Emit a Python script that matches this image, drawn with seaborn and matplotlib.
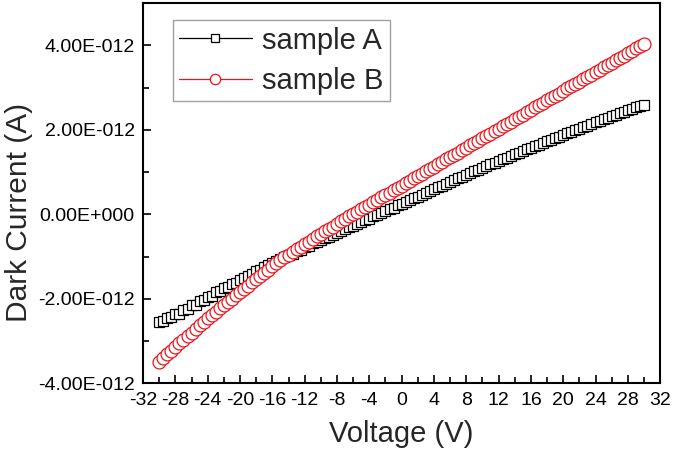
import numpy as np
import pandas as pd
import matplotlib
matplotlib.use("Agg")
import matplotlib.pyplot as plt
from matplotlib.ticker import FixedLocator, FixedFormatter, MultipleLocator
import seaborn as sns

# ---- data (current in units of 1e-12 A) ----
voltage = [v / 2 for v in range(-60, 61)]

sample_a = [
    -2.55, -2.52, -2.46, -2.44, -2.36, -2.35, -2.27, -2.24, -2.16, -2.14,
    -2.05, -2.03, -1.95, -1.93, -1.85, -1.82, -1.75, -1.72, -1.65, -1.62,
    -1.55, -1.52, -1.45, -1.42, -1.35, -1.32, -1.25, -1.21, -1.15, -1.11,
    -1.05, -1.02, -0.96, -0.93, -0.87, -0.84, -0.78, -0.74, -0.69, -0.66,
    -0.62, -0.57, -0.53, -0.48, -0.44, -0.40, -0.36, -0.31, -0.27, -0.22,
    -0.18, -0.14, -0.10, -0.05, -0.01, 0.04, 0.08, 0.12, 0.16, 0.21,
    0.25, 0.29, 0.33, 0.38, 0.42, 0.46, 0.51, 0.55, 0.59, 0.64,
    0.68, 0.72, 0.76, 0.81, 0.85, 0.89, 0.93, 0.97, 1.02, 1.06,
    1.10, 1.14, 1.18, 1.22, 1.26, 1.30, 1.34, 1.38, 1.42, 1.46,
    1.50, 1.54, 1.58, 1.61, 1.65, 1.69, 1.73, 1.77, 1.80, 1.84,
    1.88, 1.92, 1.96, 1.99, 2.03, 2.07, 2.10, 2.14, 2.18, 2.21,
    2.25, 2.29, 2.32, 2.36, 2.39, 2.43, 2.46, 2.50, 2.53, 2.57, 2.60,
]

sample_b = [
    -3.50, -3.41, -3.32, -3.24, -3.15, -3.06, -2.97, -2.88, -2.80, -2.71,
    -2.62, -2.54, -2.46, -2.39, -2.31, -2.23, -2.15, -2.07, -2.00, -1.92,
    -1.84, -1.76, -1.69, -1.61, -1.54, -1.46, -1.38, -1.31, -1.23, -1.16,
    -1.08, -1.02, -0.96, -0.89, -0.83, -0.77, -0.71, -0.65, -0.58, -0.52,
    -0.46, -0.40, -0.34, -0.29, -0.23, -0.17, -0.11, -0.05, 0.00, 0.06,
    0.12, 0.18, 0.23, 0.29, 0.34, 0.40, 0.46, 0.51, 0.57, 0.62,
    0.68, 0.74, 0.79, 0.85, 0.90, 0.96, 1.02, 1.07, 1.13, 1.18,
    1.24, 1.30, 1.35, 1.41, 1.46, 1.52, 1.58, 1.63, 1.69, 1.74,
    1.80, 1.86, 1.91, 1.97, 2.02, 2.08, 2.14, 2.19, 2.25, 2.30,
    2.36, 2.42, 2.47, 2.53, 2.58, 2.64, 2.70, 2.75, 2.81, 2.86,
    2.92, 2.98, 3.03, 3.09, 3.14, 3.20, 3.26, 3.31, 3.37, 3.42,
    3.48, 3.54, 3.59, 3.65, 3.70, 3.76, 3.82, 3.87, 3.93, 3.98, 4.04,
]

series_names = ["sample A", "sample B"]
x_ticks = list(range(-32, 33, 4))
x_tick_labels = [str(v) for v in x_ticks]
y_ticks = [-4e-12, -2e-12, 0.0, 2e-12, 4e-12]
y_tick_labels = ["-4.00E-012", "-2.00E-012", "0.00E+000", "2.00E-012", "4.00E-012"]

df = pd.DataFrame({
    "Voltage": voltage * 2,
    "Current": [v * 1e-12 for v in sample_a] + [v * 1e-12 for v in sample_b],
    "Sample": [series_names[0]] * len(voltage) + [series_names[1]] * len(voltage),
})

sns.set_style("ticks")
plt.rcParams["font.family"] = ["Liberation Sans", "DejaVu Sans"]
plt.rcParams["axes.unicode_minus"] = False

fig = plt.figure(figsize=(6.75, 4.54), dpi=100)
ax = fig.add_axes([0.212, 0.156, 0.766, 0.837])

styles = {
    "sample A": dict(color="black", marker="s", markersize=7.8),
    "sample B": dict(color="#e8141c", marker="o", markersize=9.3),
}
for name in series_names:
    sub = df[df["Sample"] == name]
    st = styles[name]
    sns.lineplot(data=sub, x="Voltage", y="Current", ax=ax, label=name,
                 color=st["color"], marker=st["marker"], markersize=st["markersize"],
                 markerfacecolor="white", markeredgecolor=st["color"],
                 markeredgewidth=0.9, linewidth=0.9, sort=False, estimator=None)

ax.set_xlim(-32, 32)
ax.set_ylim(-4e-12, 5e-12)
ax.xaxis.set_major_locator(FixedLocator(x_ticks))
ax.xaxis.set_major_formatter(FixedFormatter(x_tick_labels))
ax.xaxis.set_minor_locator(MultipleLocator(2))
ax.yaxis.set_major_locator(FixedLocator(y_ticks))
ax.yaxis.set_major_formatter(FixedFormatter(y_tick_labels))
ax.yaxis.set_minor_locator(MultipleLocator(1e-12))
ax.tick_params(which="both", direction="in", width=1.2, labelsize=14,
               top=False, right=False, colors="black")
ax.tick_params(which="major", length=6, pad=6)
ax.tick_params(which="minor", length=4)
for sp in ax.spines.values():
    sp.set_visible(True)
    sp.set_linewidth(1.5)
    sp.set_color("black")

ax.set_xlabel("Voltage (V)", fontsize=21, labelpad=8)
ax.set_ylabel("Dark Current (A)", fontsize=21.5)
ax.yaxis.set_label_coords(-0.213, 0.45)

leg = ax.legend(loc="upper left", bbox_to_anchor=(0.057, 0.955), fontsize=21,
                frameon=True, fancybox=False, edgecolor="#888888",
                handlelength=2.5, handletextpad=0.35, borderpad=0.22,
                labelspacing=0.42, borderaxespad=0, markerscale=0.8)
leg.get_frame().set_linewidth(1.0)

fig.savefig("out.png", dpi=100)
